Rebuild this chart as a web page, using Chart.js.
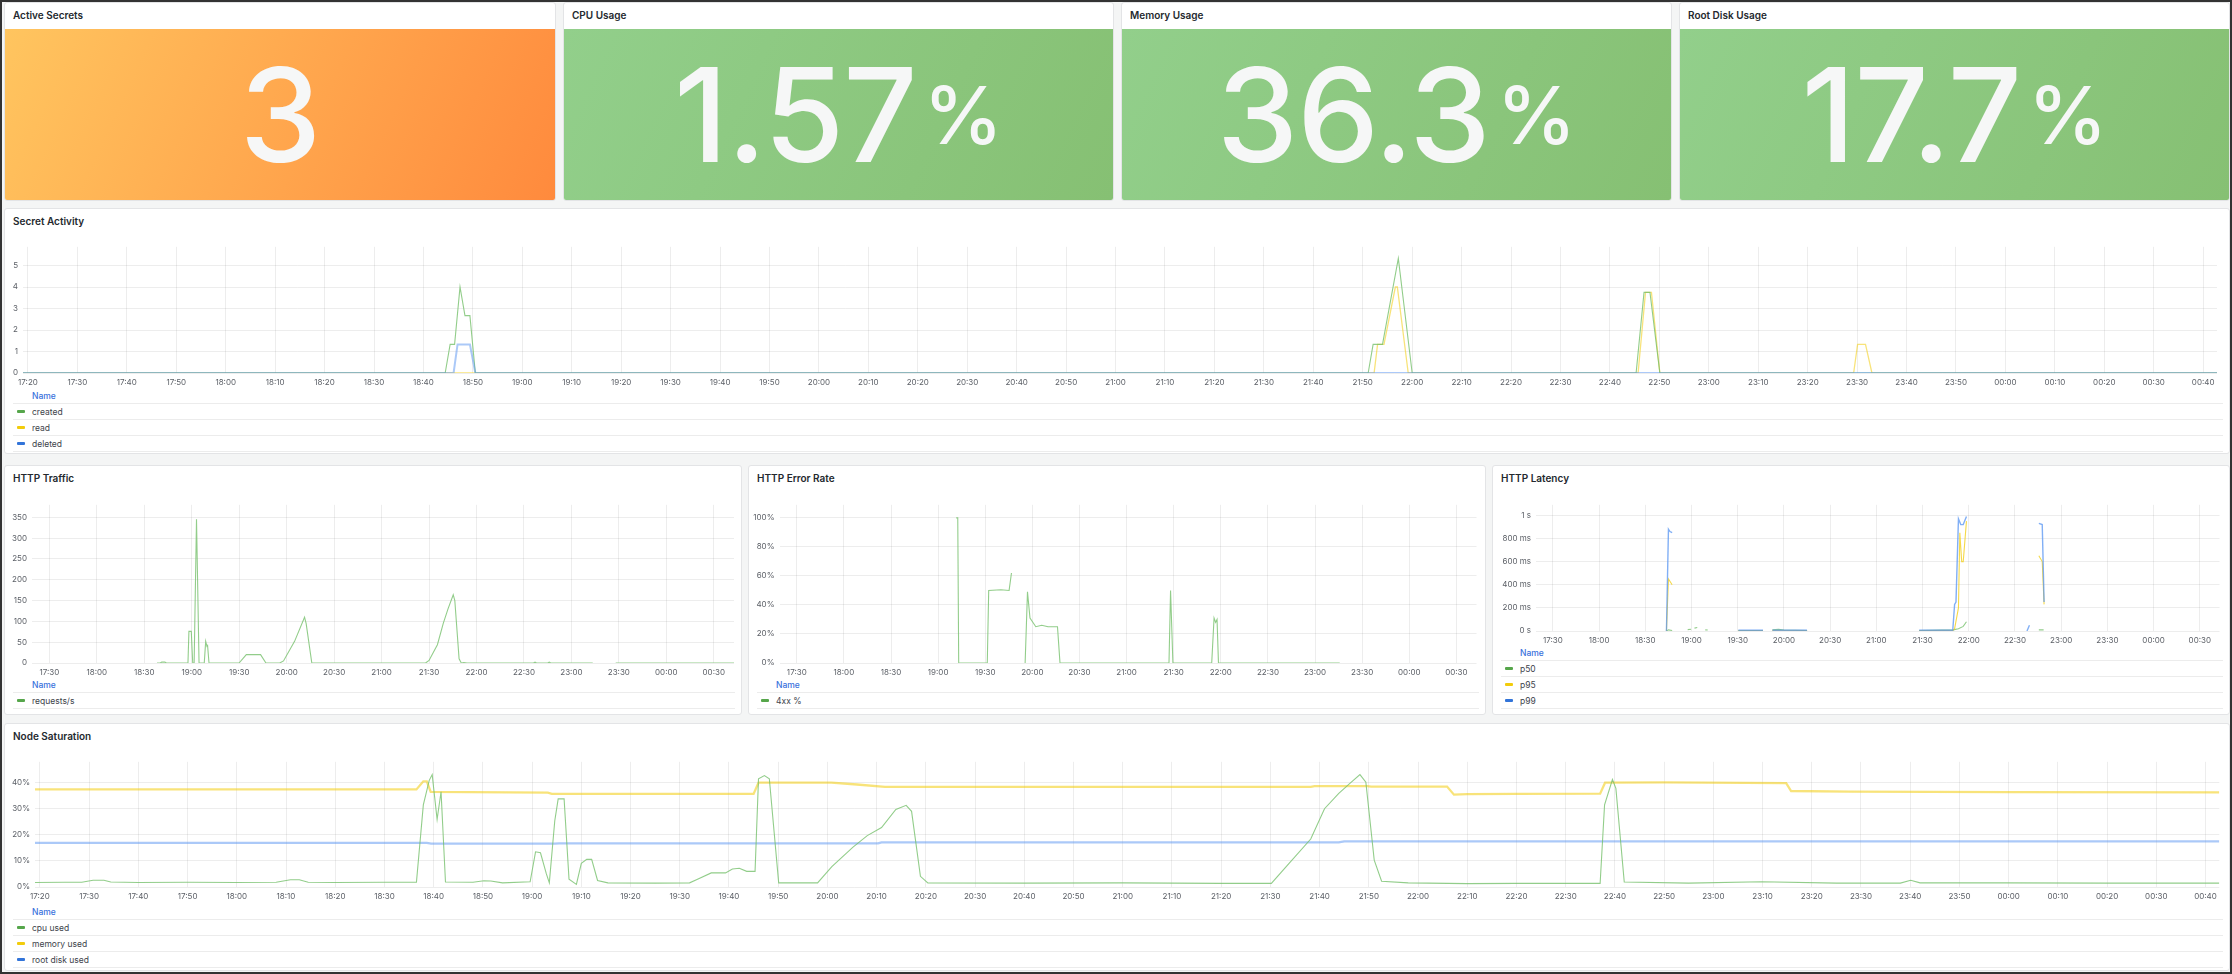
<!DOCTYPE html>
<html>
<head>
<meta charset="utf-8">
<script src="https://cdn.jsdelivr.net/npm/chart.js@4.4.1/dist/chart.umd.min.js"></script>
<style>
  html, body { margin: 0; padding: 0; }
  body { width: 2232px; height: 974px; overflow: hidden; position: relative; background: #f4f5f5;
         font-family: Inter, "Noto Sans", sans-serif; color: #24292e; }
  #frame { position: absolute; left: 0; top: 0; width: 2232px; height: 974px; box-sizing: border-box;
           border: 2px solid #333; pointer-events: none; z-index: 10; }
  .panel { position: absolute; background: #fff; border: 1px solid #e3e4e6; border-radius: 3px; box-sizing: border-box; overflow: hidden; }
  .title { position: absolute; left: 8px; top: 5px; font-size: 10px; line-height: 14px; font-weight: 600; color: #24292e; }
  .statbody { position: absolute; left: 0; right: 0; top: 26px; bottom: 0; display: flex; align-items: center; justify-content: center;
              color: #f6f7f7; font-weight: 500; line-height: 1; }
  .statbody .val { font-size: 130px; letter-spacing: -1px; }
  .statbody .unit { font-size: 80px; margin-left: 7px; }
  .orange { background: linear-gradient(115deg, #ffc55f 0%, #ff8a3d 100%); }
  .green { background: linear-gradient(115deg, #92cf8b 0%, #86c073 100%); }
  canvas { position: absolute; left: 0; }
  .legend { position: absolute; left: 8px; right: 6px; font-size: 8.5px; }
  .legend .hdr { height: 14px; line-height: 14px; color: #3871dc; font-weight: 500; padding-left: 19px; }
  .legend .row { height: 16px; line-height: 16px; border-top: 1px solid #ececec; color: #3d434b; display: flex; align-items: center; box-sizing: border-box; }
  .legend .row:last-child { border-bottom: 1px solid #ececec; height: 17px; }
  .legend .mk { width: 8px; height: 3px; border-radius: 1px; margin-left: 4px; margin-right: 7px; }
</style>
</head>
<body>
<div id="frame"></div>

<div class="panel" style="left:4px;top:2px;width:552px;height:199px">
  <div class="title">Active Secrets</div>
  <div class="statbody orange"><span class="val" id="statSecrets"></span></div>
</div>
<div class="panel" style="left:563px;top:2px;width:551px;height:199px">
  <div class="title">CPU Usage</div>
  <div class="statbody green"><span class="val" id="statCpu"></span><span class="unit">%</span></div>
</div>
<div class="panel" style="left:1121px;top:2px;width:551px;height:199px">
  <div class="title">Memory Usage</div>
  <div class="statbody green"><span class="val" id="statMem"></span><span class="unit">%</span></div>
</div>
<div class="panel" style="left:1679px;top:2px;width:551px;height:199px">
  <div class="title">Root Disk Usage</div>
  <div class="statbody green"><span class="val" id="statDisk"></span><span class="unit">%</span></div>
</div>

<div class="panel" style="left:4px;top:208px;width:2226px;height:246px">
  <div class="title">Secret Activity</div>
  <canvas id="secretChart" width="2224" height="151" style="top:28px"></canvas>
  <div class="legend" id="secretLegend" style="top:180px"></div>
</div>

<div class="panel" style="left:4px;top:465px;width:738px;height:250px">
  <div class="title">HTTP Traffic</div>
  <canvas id="trafficChart" width="736" height="183" style="top:29px"></canvas>
  <div class="legend" id="trafficLegend" style="top:212px"></div>
</div>
<div class="panel" style="left:748px;top:465px;width:738px;height:250px">
  <div class="title">HTTP Error Rate</div>
  <canvas id="errorChart" width="736" height="183" style="top:29px"></canvas>
  <div class="legend" id="errorLegend" style="top:212px"></div>
</div>
<div class="panel" style="left:1492px;top:465px;width:738px;height:250px">
  <div class="title">HTTP Latency</div>
  <canvas id="latencyChart" width="736" height="151" style="top:29px"></canvas>
  <div class="legend" id="latencyLegend" style="top:180px"></div>
</div>

<div class="panel" style="left:4px;top:723px;width:2226px;height:248px">
  <div class="title">Node Saturation</div>
  <canvas id="nodeChart" width="2224" height="150" style="top:28px"></canvas>
  <div class="legend" id="nodeLegend" style="top:181px"></div>
</div>

<script>
// stat values
const activeSecrets = "3";
const cpuUsage = "1.57";
const memoryUsage = "36.3";
const rootDiskUsage = "17.7";

// time axis: x values are minutes after 17:20
const X_MIN = -1;
const X_MAX = 442.8;
const tenMinLabels = ["17:20","17:30","17:40","17:50","18:00","18:10","18:20","18:30","18:40","18:50",
  "19:00","19:10","19:20","19:30","19:40","19:50","20:00","20:10","20:20","20:30","20:40","20:50",
  "21:00","21:10","21:20","21:30","21:40","21:50","22:00","22:10","22:20","22:30","22:40","22:50",
  "23:00","23:10","23:20","23:30","23:40","23:50","00:00","00:10","00:20","00:30","00:40"];
const halfHourLabels = ["17:30","18:00","18:30","19:00","19:30","20:00","20:30","21:00","21:30",
  "22:00","22:30","23:00","23:30","00:00","00:30"];

// y ticks
const secretTicks = [0, 1, 2, 3, 4, 5];
const trafficTicks = [0, 50, 100, 150, 200, 250, 300, 350];
const errorTicks = [0, 20, 40, 60, 80, 100];
const latencyTicks = [0, 200, 400, 600, 800, 1000];
const nodeTicks = [0, 10, 20, 30, 40];

// Secret Activity  [minute, ops/s]
const created = [[-1,0],[84.4,0],[85.4,1.33],[86.3,1.33],[87.4,4],[88.4,2.67],[89.4,2.67],[90.5,0],
  [271.1,0],[272.1,1.33],[274,1.33],[277.2,5.33],[280,0],[325.3,0],[326.9,3.75],[328.1,3.75],[330.1,0],[442.8,0]];
const read = [[-1,0],[272.3,0],[273,1.33],[274.3,1.33],[276.6,4],[277,4],[279.2,0],
  [325.7,0],[327.2,3.75],[328.4,3.75],[330.1,0],[369.3,0],[370.1,1.33],[371.7,1.33],[373,0],[442.8,0]];
const deleted = [[-1,0],[86.1,0],[86.9,1.33],[89.4,1.33],[90.5,0],[442.8,0]];

// HTTP Traffic  [minute, req/s]
const requests = [[78,0],[80,0],[81,2],[83,2],[84,0],[97.6,0],[98.2,76],[99.7,76],[100.6,0],[101.5,0],
  [103,345],[104.6,0],[107.9,0],[108.8,52],[109.6,40],[110,42],[110.9,0],[129.9,0],[134.5,20],[143.5,20],
  [146.9,0],[155.6,0],[158,5],[165,52],[171.3,110],[172.3,95],[175.9,0],[247.8,0],[250,6],[255.3,44],
  [259,95],[262,130],[265.3,164],[266.3,150],[269,10],[270.4,0],[272,1],[274,0],[316,0],[317,2],[318,0],
  [325,0],[326,2],[327,0],[353.5,0],[354,null],[368,0],[442.8,0]];

// HTTP Error Rate  [minute, %]
const errors4xx = [[111.5,100],[112.5,100],[113.1,0],[131.3,0],[132.2,50],[140,50.5],[145.2,50],[146.7,62],
  [147.2,null],[155.4,0],[156.9,49],[158.5,31],[162.2,25],[166,26],[170,25],[176,25],[177.6,0],[247,0],
  [248,50],[249.5,0],[274.2,0],[275.7,31],[276.7,28],[277.6,30],[278.5,0],[355.7,0]];

// HTTP Latency  [minute, ms]
const p50 = [[83.7,0],[85,10],[87.4,5],[88,null],[97.5,12],[99.7,15],[100,null],[101.9,25],[103.7,30],[104,null],
  [108.9,10],[110.5,8],[111,null],[130.4,3],[146.4,3],[147,null],[152.5,10],[156.5,15],[160,8],[175,4],[175.5,null],
  [247.8,3],[270,10],[273.3,20],[276.4,40],[278.5,80],[279,null],[325.5,10],[328.6,10]];
const p95 = [[83.7,0],[85,450],[87.4,400],[88,null],[130.4,4],[146.4,4],[147,null],[152.5,4],[175,4],[175.5,null],
  [247.8,4],[269.6,4],[270.8,20],[273.3,200],[274.2,850],[275.4,600],[276.4,600],[278.5,950],[279,null],
  [325.5,650],[327.7,600],[328.9,230]];
const p99 = [[83.7,0],[85,880],[86,860],[87.4,850],[88,null],[130.4,6],[146.4,6],[147,null],[152.5,6],[175,6],[175.5,null],
  [247.8,6],[269.6,6],[270.8,230],[271.7,250],[273.3,970],[274.8,920],[276.4,920],[278.5,990],[279,null],
  [317.8,0],[319.4,50],[320,null],[325.5,930],[327.7,920],[328.9,250]];

// Node Saturation  [minute, %]
const cpuUsed = [[-1,1.7],[5,1.8],[8.5,1.8],[10.8,2.6],[13,2.6],[14.4,1.9],[20,1.7],[30,1.8],[40,1.7],[48,1.8],
  [50.9,2.8],[52.7,2.8],[54.5,1.8],[60,1.7],[70,1.8],[76.5,1.8],[77.9,31.5],[79.1,40.9],[79.7,43.1],[80.7,25.9],
  [81.5,36.5],[82.4,1.9],[88,1.8],[90.2,2.4],[91.6,2.3],[94,1.6],[99.6,2],[100.7,13.5],[101.7,13.1],[102.9,5],
  [103.5,1.6],[104.6,25.3],[105.3,33.8],[106.5,33.8],[107.5,3],[109,1],[110,9.1],[111.1,10.6],[112.1,10.6],
  [113.3,2.5],[115.4,1.6],[125,1.5],[132,1.6],[133.5,2.9],[136.4,5.4],[139.3,5.4],[140.7,6.9],[142.1,7.2],
  [143.6,6],[145.3,6],[146,41.5],[147.2,42.7],[148.2,41.5],[150.1,1.6],[158,1.6],[160.9,7.8],[165.2,15.3],
  [168.1,19.7],[171,22.8],[173.9,29.7],[176,31.3],[177.1,29],[178.9,4.1],[180.4,1.6],[200,1.5],[220,1.6],
  [240,1.4],[250.2,1.4],[253.8,9.1],[258.2,18.4],[261,30],[263.9,35.9],[266.1,39.6],[268.2,43.1],[269.4,40.2],
  [271.1,10.3],[272.6,2.2],[278,1.6],[290,1.3],[300,1.4],[317,1.4],[317.9,31.5],[319.5,41.2],[320.2,37.8],
  [321.9,1.9],[335,1.5],[349.8,2],[365,1.5],[378,1.5],[380.1,2.6],[382,1.6],[399.6,1.6],[420,1.5],[442.8,1.5]];
const memoryUsed = [[-1,37.4],[76.5,37.4],[77.9,40.5],[78.6,40.5],[79.4,36.5],[103.2,36.2],[104,35.7],[145,35.7],
  [146,40],[160.8,40],[166,39.3],[171.7,38.4],[258.2,38.4],[259,38.7],[269.7,38.7],[270.5,38.5],[285.9,38.5],
  [287.3,35.4],[290,35.6],[300,35.7],[317,35.8],[318,40],[330,40.1],[354.8,39.8],[355.8,36.8],[367.8,36.6],
  [400,36.4],[442.8,36.3]];
const rootDiskUsed = [[-1,16.9],[78.6,16.9],[79.5,16.6],[104.6,16.6],[105.5,16.7],[170.3,16.7],[171,17.1],
  [263.9,17.1],[265,17.5],[442.8,17.5]];

const GREEN = "#56a64b", YELLOW = "#f2cc0c", BLUE = "#3274d9";
const GREEN_LINE = "rgba(115,191,105,0.78)";
const YELLOW_LINE = "rgba(242,204,12,0.55)";
const BLUE_LINE = "rgba(87,148,242,0.5)";

document.getElementById("statSecrets").textContent = activeSecrets;
document.getElementById("statCpu").textContent = cpuUsage;
document.getElementById("statMem").textContent = memoryUsage;
document.getElementById("statDisk").textContent = rootDiskUsage;

function toMin(label) {
  const [h, m] = label.split(":").map(Number);
  let t = h * 60 + m - (17 * 60 + 20);
  if (t < 0) t += 1440;
  return t;
}

function legend(id, items) {
  const el = document.getElementById(id);
  let html = '<div class="hdr">Name</div>';
  items.forEach(it => {
    html += '<div class="row"><span class="mk" style="background:' + it[1] + '"></span>' + it[0] + '</div>';
  });
  el.innerHTML = html;
}

function timeChart(id, cfg) {
  const font = { family: "Inter", size: 8 };
  const gridColor = "rgba(0,0,0,0.07)";
  new Chart(document.getElementById(id), {
    type: "line",
    data: {
      datasets: cfg.series.map(s => ({
        label: s.label,
        data: s.data.map(p => ({ x: p[0], y: p[1] })),
        borderColor: s.color,
        borderWidth: s.width || 1.1,
        pointRadius: 0,
        tension: 0,
        fill: false,
        order: s.order
      }))
    },
    options: {
      responsive: false,
      animation: false,
      layout: { padding: { top: 8, right: cfg.padRight, left: 0, bottom: 0 } },
      plugins: { legend: { display: false }, tooltip: { enabled: false } },
      scales: {
        x: {
          type: "linear", min: X_MIN, max: X_MAX,
          afterBuildTicks: s => { s.ticks = cfg.xLabels.map(l => ({ value: toMin(l) })); },
          afterFit: s => { s.height = 15; },
          ticks: { autoSkip: false, maxRotation: 0, padding: 5, font: font, color: "#5b5f66",
                   callback: (v, i) => cfg.xLabels[i] },
          grid: { color: gridColor, drawTicks: false },
          border: { display: false }
        },
        y: {
          type: "linear", min: 0, max: cfg.yMax,
          afterBuildTicks: s => { s.ticks = cfg.yTicks.map(v => ({ value: v })); },
          afterFit: s => { s.width = cfg.yWidth; },
          ticks: { padding: 5, font: font, color: "#5b5f66", callback: cfg.yFmt },
          grid: { color: gridColor, drawTicks: false },
          border: { display: false }
        }
      }
    }
  });
}

timeChart("secretChart", {
  xLabels: tenMinLabels, yTicks: secretTicks, yMax: 5.87, yWidth: 18, padRight: 12,
  yFmt: v => String(v),
  series: [
    { label: "created", data: created, color: GREEN_LINE, order: 1 },
    { label: "read", data: read, color: YELLOW_LINE, width: 1.3, order: 2 },
    { label: "deleted", data: deleted, color: BLUE_LINE, width: 2, order: 0 }
  ]
});
legend("secretLegend", [["created", GREEN], ["read", YELLOW], ["deleted", BLUE]]);

timeChart("trafficChart", {
  xLabels: halfHourLabels, yTicks: trafficTicks, yMax: 380, yWidth: 27, padRight: 7,
  yFmt: v => String(v),
  series: [{ label: "requests/s", data: requests, color: GREEN_LINE, order: 0 }]
});
legend("trafficLegend", [["requests/s", GREEN]]);

timeChart("errorChart", {
  xLabels: halfHourLabels, yTicks: errorTicks, yMax: 109, yWidth: 30.5, padRight: 8.5,
  yFmt: v => v + "%",
  series: [{ label: "4xx %", data: errors4xx, color: GREEN_LINE, order: 0 }]
});
legend("errorLegend", [["4xx %", GREEN]]);

timeChart("latencyChart", {
  xLabels: halfHourLabels, yTicks: latencyTicks, yMax: 1091, yWidth: 43, padRight: 9.5,
  yFmt: v => v === 0 ? "0 s" : (v >= 1000 ? (v / 1000) + " s" : v + " ms"),
  series: [
    { label: "p50", data: p50, color: GREEN_LINE, order: 2 },
    { label: "p95", data: p95, color: "rgba(242,204,12,0.75)", order: 1 },
    { label: "p99", data: p99, color: "rgba(87,148,242,0.75)", width: 1.4, order: 0 }
  ]
});
legend("latencyLegend", [["p50", GREEN], ["p95", YELLOW], ["p99", BLUE]]);

timeChart("nodeChart", {
  xLabels: tenMinLabels, yTicks: nodeTicks, yMax: 48, yWidth: 30, padRight: 9.7,
  yFmt: v => v + "%",
  series: [
    { label: "cpu used", data: cpuUsed, color: GREEN_LINE, order: 0 },
    { label: "memory used", data: memoryUsed, color: YELLOW_LINE, width: 2.3, order: 1 },
    { label: "root disk used", data: rootDiskUsed, color: BLUE_LINE, width: 2.3, order: 2 }
  ]
});
legend("nodeLegend", [["cpu used", GREEN], ["memory used", YELLOW], ["root disk used", BLUE]]);
</script>
</body>
</html>
